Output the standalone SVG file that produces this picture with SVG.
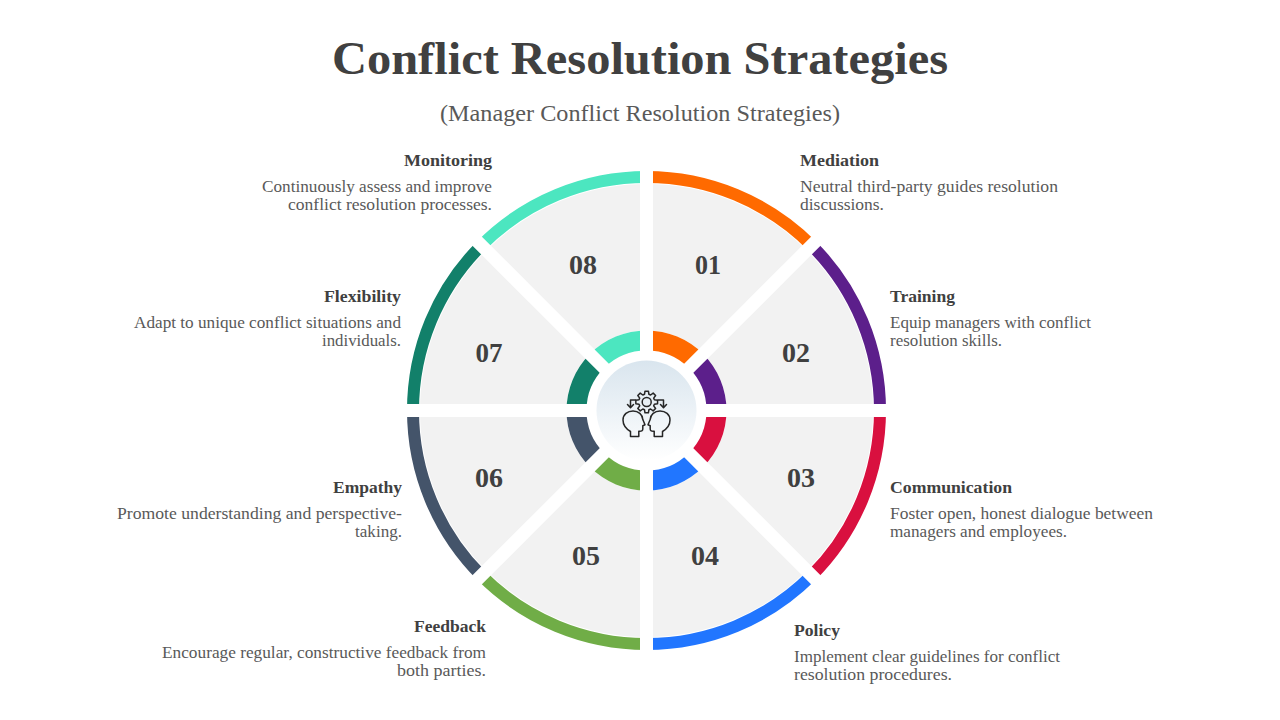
<svg xmlns="http://www.w3.org/2000/svg" width="1280" height="720" viewBox="0 0 1280 720">
<defs>
<linearGradient id="hub" x1="0" y1="0" x2="0" y2="1"><stop offset="0" stop-color="#d9e5ee"/><stop offset="1" stop-color="#ffffff"/></linearGradient>
</defs>
<style>
text{font-family:"Liberation Serif","DejaVu Serif",serif}
.title{font-size:46px;font-weight:700;fill:#404040;text-anchor:middle}
.sub{font-size:23px;fill:#595959;text-anchor:middle}
.h{font-size:16.5px;font-weight:700;fill:#404040}
.b{font-size:16.5px;fill:#595959}
.e{text-anchor:end}
.n{font-size:27px;font-weight:700;fill:#404040;text-anchor:middle}
.s{fill:#f2f2f2}
.o{fill:none;stroke-width:12}
.i{fill:none;stroke-width:20}
.gap{stroke:#fff;stroke-width:13;fill:none}
.ic{fill:none;stroke:#262626;stroke-width:1.5;stroke-linejoin:round;stroke-linecap:round}
</style>
<rect width="1280" height="720" fill="#fff"/>
<text class="title" x="640" y="73.5" textLength="616" lengthAdjust="spacingAndGlyphs">Conflict Resolution Strategies</text>
<text class="sub" x="640" y="120.5" textLength="400" lengthAdjust="spacingAndGlyphs">(Manager Conflict Resolution Strategies)</text>

<g id="node-01">
<path class="s" d="M646.5 184A226.500 226.500 0 0 1 806.66 250.34L703.07 353.93A80 80 0 0 0 646.5 330.5Z"/>
<path class="o" stroke="#ff6a00" d="M646.5 177A233.500 233.500 0 0 1 811.61 245.39"/>
<path class="i" stroke="#ff6a00" d="M646.5 340.500A70 70 0 0 1 696 361"/>
</g>
<g id="node-02">
<path class="s" d="M806.66 250.34A226.500 226.500 0 0 1 873 410.5L726.5 410.5A80 80 0 0 0 703.07 353.93Z"/>
<path class="o" stroke="#5c1f8b" d="M811.61 245.39A233.500 233.500 0 0 1 880 410.5"/>
<path class="i" stroke="#5c1f8b" d="M696 361A70 70 0 0 1 716.5 410.5"/>
</g>
<g id="node-03">
<path class="s" d="M873 410.5A226.500 226.500 0 0 1 806.66 570.66L703.07 467.07A80 80 0 0 0 726.5 410.5Z"/>
<path class="o" stroke="#d9103f" d="M880 410.5A233.500 233.500 0 0 1 811.61 575.61"/>
<path class="i" stroke="#d9103f" d="M716.5 410.5A70 70 0 0 1 696 460"/>
</g>
<g id="node-04">
<path class="s" d="M806.66 570.66A226.500 226.500 0 0 1 646.5 637L646.5 490.5A80 80 0 0 0 703.07 467.07Z"/>
<path class="o" stroke="#2176ff" d="M811.61 575.61A233.500 233.500 0 0 1 646.5 644"/>
<path class="i" stroke="#2176ff" d="M696 460A70 70 0 0 1 646.5 480.5"/>
</g>
<g id="node-05">
<path class="s" d="M646.5 637A226.500 226.500 0 0 1 486.34 570.66L589.93 467.07A80 80 0 0 0 646.5 490.5Z"/>
<path class="o" stroke="#70ad47" d="M646.5 644A233.500 233.500 0 0 1 481.39 575.61"/>
<path class="i" stroke="#70ad47" d="M646.5 480.5A70 70 0 0 1 597 460"/>
</g>
<g id="node-06">
<path class="s" d="M486.34 570.66A226.500 226.500 0 0 1 420 410.5L566.5 410.5A80 80 0 0 0 589.93 467.07Z"/>
<path class="o" stroke="#44546a" d="M481.39 575.61A233.500 233.500 0 0 1 413 410.5"/>
<path class="i" stroke="#44546a" d="M597 460A70 70 0 0 1 576.5 410.5"/>
</g>
<g id="node-07">
<path class="s" d="M420 410.5A226.500 226.500 0 0 1 486.34 250.34L589.93 353.93A80 80 0 0 0 566.5 410.5Z"/>
<path class="o" stroke="#12806a" d="M413 410.5A233.500 233.500 0 0 1 481.39 245.39"/>
<path class="i" stroke="#12806a" d="M576.5 410.5A70 70 0 0 1 597 361"/>
</g>
<g id="node-08">
<path class="s" d="M486.34 250.34A226.500 226.500 0 0 1 646.5 184L646.5 330.5A80 80 0 0 0 589.93 353.93Z"/>
<path class="o" stroke="#4ce6c0" d="M481.39 245.39A233.500 233.500 0 0 1 646.5 177"/>
<path class="i" stroke="#4ce6c0" d="M597 361A70 70 0 0 1 646.5 340.500"/>
</g>

<g id="gaps">
<path class="gap" d="M646.500 165V358M646.500 463V656M401 410.500H594M699 410.500H892M472.800 236.800L609.500 373.500M683.500 447.500L820.200 584.200M820.200 236.800L683.500 373.500M609.500 447.500L472.800 584.200"/>
</g>

<g id="labels">
<text class="n" x="708" y="274" textLength="26" lengthAdjust="spacingAndGlyphs">01</text>
<text class="n" x="796" y="362" textLength="28" lengthAdjust="spacingAndGlyphs">02</text>
<text class="n" x="801" y="487" textLength="28" lengthAdjust="spacingAndGlyphs">03</text>
<text class="n" x="705" y="565" textLength="28" lengthAdjust="spacingAndGlyphs">04</text>
<text class="n" x="586" y="565" textLength="28" lengthAdjust="spacingAndGlyphs">05</text>
<text class="n" x="489" y="487" textLength="28" lengthAdjust="spacingAndGlyphs">06</text>
<text class="n" x="489" y="362" textLength="27" lengthAdjust="spacingAndGlyphs">07</text>
<text class="n" x="583" y="274" textLength="28" lengthAdjust="spacingAndGlyphs">08</text>

<text class="h" x="800" y="166" textLength="79" lengthAdjust="spacingAndGlyphs">Mediation</text>
<text class="b" x="800" y="192" textLength="258" lengthAdjust="spacingAndGlyphs">Neutral third-party guides resolution</text>
<text class="b" x="800" y="210" textLength="84" lengthAdjust="spacingAndGlyphs">discussions.</text>

<text class="h" x="890" y="302" textLength="65" lengthAdjust="spacingAndGlyphs">Training</text>
<text class="b" x="890" y="328" textLength="201" lengthAdjust="spacingAndGlyphs">Equip managers with conflict</text>
<text class="b" x="890" y="346" textLength="112" lengthAdjust="spacingAndGlyphs">resolution skills.</text>

<text class="h" x="890" y="493" textLength="122" lengthAdjust="spacingAndGlyphs">Communication</text>
<text class="b" x="890" y="519" textLength="263" lengthAdjust="spacingAndGlyphs">Foster open, honest dialogue between</text>
<text class="b" x="890" y="537" textLength="177" lengthAdjust="spacingAndGlyphs">managers and employees.</text>

<text class="h" x="794" y="636" textLength="46" lengthAdjust="spacingAndGlyphs">Policy</text>
<text class="b" x="794" y="662" textLength="266" lengthAdjust="spacingAndGlyphs">Implement clear guidelines for conflict</text>
<text class="b" x="794" y="680" textLength="158" lengthAdjust="spacingAndGlyphs">resolution procedures.</text>

<text class="h e" x="492" y="166" textLength="88" lengthAdjust="spacingAndGlyphs">Monitoring</text>
<text class="b e" x="492" y="192" textLength="230" lengthAdjust="spacingAndGlyphs">Continuously assess and improve</text>
<text class="b e" x="492" y="210" textLength="204" lengthAdjust="spacingAndGlyphs">conflict resolution processes.</text>

<text class="h e" x="401" y="302" textLength="77" lengthAdjust="spacingAndGlyphs">Flexibility</text>
<text class="b e" x="401" y="328" textLength="267" lengthAdjust="spacingAndGlyphs">Adapt to unique conflict situations and</text>
<text class="b e" x="401" y="346" textLength="79" lengthAdjust="spacingAndGlyphs">individuals.</text>

<text class="h e" x="402" y="493" textLength="69" lengthAdjust="spacingAndGlyphs">Empathy</text>
<text class="b e" x="402" y="519" textLength="285" lengthAdjust="spacingAndGlyphs">Promote understanding and perspective-</text>
<text class="b e" x="402" y="537" textLength="47" lengthAdjust="spacingAndGlyphs">taking.</text>

<text class="h e" x="486" y="632" textLength="72" lengthAdjust="spacingAndGlyphs">Feedback</text>
<text class="b e" x="486" y="658" textLength="324" lengthAdjust="spacingAndGlyphs">Encourage regular, constructive feedback from</text>
<text class="b e" x="486" y="676" textLength="89" lengthAdjust="spacingAndGlyphs">both parties.</text>
</g>

<g id="hub-node">
<circle cx="646.500" cy="410.500" r="50" fill="url(#hub)"/>
<g transform="translate(646.700 402)">
<path class="ic" d="M7.69 -2.21L10.86 -1.72L10.86 1.72L7.69 2.21L7 3.88L8.9 6.47L6.47 8.9L3.88 7L2.21 7.69L1.72 10.86L-1.72 10.86L-2.21 7.69L-3.88 7L-6.47 8.9L-8.9 6.47L-7 3.88L-7.69 2.21L-10.86 1.72L-10.86 -1.72L-7.69 -2.21L-7 -3.88L-8.9 -6.47L-6.47 -8.9L-3.88 -7L-2.21 -7.69L-1.72 -10.86L1.72 -10.86L2.21 -7.69L3.88 -7L6.47 -8.9L8.9 -6.47L7 -3.88Z"/>
<circle class="ic" r="4.5"/>
</g>
<path class="ic" d="M635.500 400H630.500V407.500M627.500 404.500L630.500 407.800L633.500 404.500"/>
<path class="ic" d="M658 400H663.500V407.500M660.500 404.500L663.500 407.800L666.500 404.500"/>
<path class="ic" d="M630.500 436.500V431.500C625.500 428.500 623 424.500 623 420C623 414.500 627.500 411 633 411C638.500 411 642.500 414.500 642.800 419.500L645 424.800L642.800 425.800V429C642.800 430.800 641.500 431.500 638.800 431.200V436.500Z"/>
<path class="ic" d="M662.500 436.500V431.500C667.500 428.500 670 424.500 670 420C670 414.500 665.500 411 660 411C654.500 411 650.500 414.500 650.200 419.500L648 424.800L650.200 425.800V429C650.200 430.800 651.500 431.500 654.200 431.200V436.500Z"/>
</g>
</svg>
